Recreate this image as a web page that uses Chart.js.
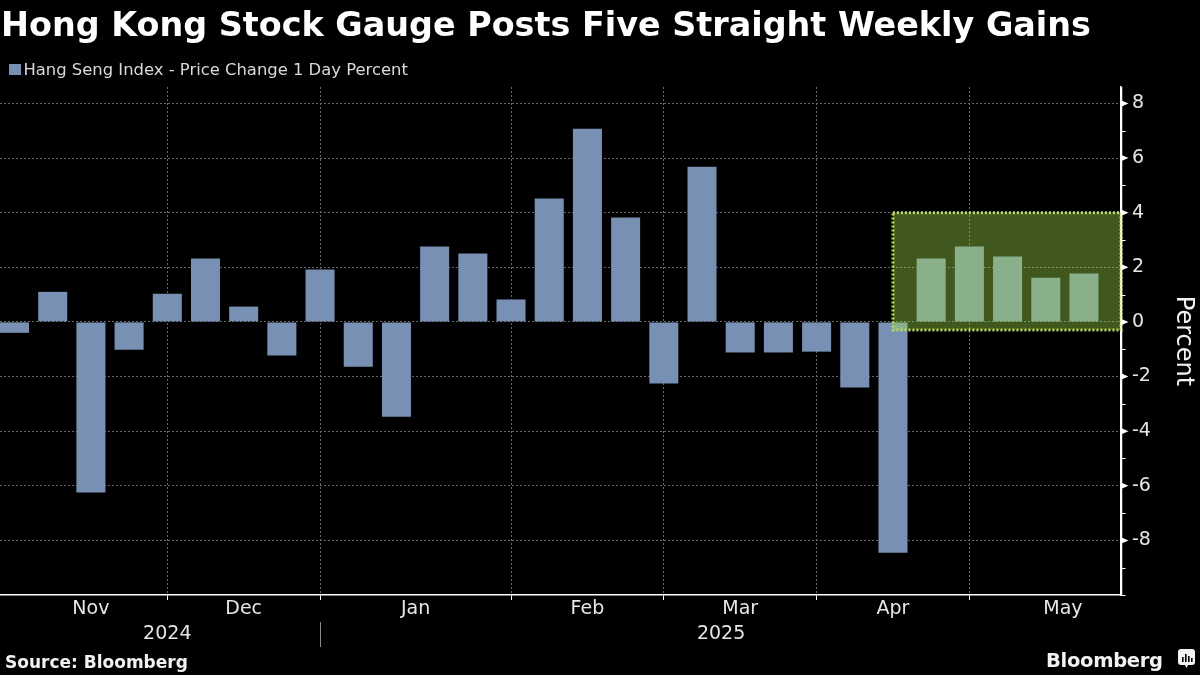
<!DOCTYPE html>
<html>
<head>
<meta charset="utf-8">
<title>Hong Kong Stock Gauge Posts Five Straight Weekly Gains</title>
<script src="https://cdn.jsdelivr.net/npm/chart.js@4.4.1/dist/chart.umd.min.js"></script>
<style>
  html, body { margin: 0; padding: 0; background: #000; }
  #wrap { position: relative; width: 1200px; height: 675px; overflow: hidden; font-family: "DejaVu Sans", sans-serif; }
  #chart { position: absolute; left: 0; top: 0; }
  .title { position: absolute; left: 1px; top: 8px; font-size: 33.4px; line-height: 33.4px; font-weight: bold; color: #fff; white-space: nowrap; }
  .legend-box { position: absolute; left: 9px; top: 64px; width: 12px; height: 11px; background: #7890b3; }
  .legend-text { position: absolute; left: 23.5px; top: 62px; font-size: 16.4px; line-height: 16.4px; color: #d9d9d9; white-space: nowrap; }
  .source { position: absolute; left: 5px; top: 654px; font-size: 17px; line-height: 17px; font-weight: bold; color: #f2f2f2; white-space: nowrap; }
  .brand { position: absolute; left: 1046px; top: 651px; font-size: 19.5px; line-height: 19.5px; font-weight: bold; color: #f2f2f2; letter-spacing: -0.3px; white-space: nowrap; }
  .brand-icon { position: absolute; left: 1178px; top: 649px; }
</style>
</head>
<body>
<div id="wrap">
  <canvas id="chart" width="1200" height="675"></canvas>
  <div class="title">Hong Kong Stock Gauge Posts Five Straight Weekly Gains</div>
  <div class="legend-box"></div>
  <div class="legend-text">Hang Seng Index - Price Change 1 Day Percent</div>
  <div class="source">Source: Bloomberg</div>
  <div class="brand">Bloomberg</div>
  <svg class="brand-icon" width="18" height="20" viewBox="0 0 18 20">
    <rect x="0" y="0" width="17" height="16" rx="3" fill="#f2f2f2"/>
    <path d="M7 16 L10 16 L8.5 19 Z" fill="#f2f2f2"/>
    <rect x="4" y="8" width="1.6" height="5" fill="#000"/>
    <rect x="7" y="5" width="1.6" height="8" fill="#000"/>
    <rect x="10" y="7" width="1.6" height="6" fill="#000"/>
    <rect x="13" y="9" width="1.6" height="4" fill="#000"/>
  </svg>
</div>
<script>
// weekly bars, Friday closes
const weeks = [
  "2024-11-01", "2024-11-08", "2024-11-15", "2024-11-22", "2024-11-29",
  "2024-12-06", "2024-12-13", "2024-12-20", "2024-12-27",
  "2025-01-03", "2025-01-10", "2025-01-17", "2025-01-24", "2025-01-31",
  "2025-02-07", "2025-02-14", "2025-02-21", "2025-02-28",
  "2025-03-07", "2025-03-14", "2025-03-21", "2025-03-28",
  "2025-04-04", "2025-04-11", "2025-04-17", "2025-04-25",
  "2025-05-02", "2025-05-09", "2025-05-16",
];
const weeklyChange = [
  -0.4, 1.1, -6.25, -1.02, 1.03,
  2.32, 0.56, -1.23, 1.92,
  -1.64, -3.47, 2.76, 2.5, 0.82,
  4.52, 7.07, 3.82, -2.26,
  5.68, -1.12, -1.12, -1.09,
  -2.4, -8.45, 2.32, 2.76,
  2.39, 1.62, 1.77,
];

// x axis is the week index
const monthNames = ["Nov", "Dec", "Jan", "Feb", "Mar", "Apr", "May"];
const monthLabelAt = [2, 6, 10.5, 15, 19, 23, 27.45];
const monthStartAt = [4, 8, 13, 17, 21, 25];
const yearNames = ["2024", "2025"];
const yearLabelAt = [4, 18.5];
const yearBreakAt = 8;
const xRange = [-0.38, 28.97];

const yRange = [-10, 8.6];
const yMajorTicks = [-8, -6, -4, -2, 0, 2, 4, 6, 8];
const yMinorTicks = [-10, -9, -7, -5, -3, -1, 1, 3, 5, 7];

// the five-week streak box
const streakFrom = 23;
const streakLow = -0.3;
const streakHigh = 4;

const BAR = "#7890b3";
const GRID = "#666666";
const TEXT = "#e6e6e6";
const FONT = "'DejaVu Sans', sans-serif";

const decorations = {
  id: "decorations",
  afterDatasetsDraw(chart) {
    const { ctx, scales: { x, y } } = chart;
    const left = x.getPixelForValue(streakFrom);
    const right = x.getPixelForValue(xRange[1]);
    const top = y.getPixelForValue(streakHigh);
    const bottom = y.getPixelForValue(streakLow);

    ctx.save();
    ctx.fillStyle = "rgba(164, 226, 77, 0.39)";
    ctx.fillRect(left, top, right - left, bottom - top);
    ctx.setLineDash([2, 2]);
    ctx.lineWidth = 3;
    ctx.strokeStyle = "#b8dc55";
    ctx.strokeRect(left, top, right - left, bottom - top);
    ctx.restore();
  },
  afterDraw(chart) {
    const { ctx, scales: { x, y } } = chart;
    const ax = Math.round(y.left) + 0.5;

    ctx.save();
    // redraw right axis line over the box
    ctx.strokeStyle = "#ffffff";
    ctx.lineWidth = 1.5;
    ctx.beginPath();
    ctx.moveTo(ax, y.top);
    ctx.lineTo(ax, y.bottom);
    ctx.stroke();

    ctx.fillStyle = "#ffffff";
    yMajorTicks.forEach((v) => {
      const py = y.getPixelForValue(v);
      ctx.beginPath();
      ctx.moveTo(ax, py - 3);
      ctx.lineTo(ax + 7, py);
      ctx.lineTo(ax, py + 3);
      ctx.closePath();
      ctx.fill();
    });
    ctx.lineWidth = 1;
    yMinorTicks.forEach((v) => {
      const py = Math.round(y.getPixelForValue(v)) + 0.5;
      ctx.beginPath();
      ctx.moveTo(ax, py);
      ctx.lineTo(ax + 4, py);
      ctx.stroke();
    });

    // years under the months
    ctx.fillStyle = TEXT;
    ctx.font = `19px ${FONT}`;
    ctx.textAlign = "center";
    ctx.textBaseline = "middle";
    yearNames.forEach((name, i) => {
      ctx.fillText(name, x.getPixelForValue(yearLabelAt[i]), 634.5);
    });
    const bx = Math.round(x.getPixelForValue(yearBreakAt)) + 0.5;
    ctx.strokeStyle = "#8a8a8a";
    ctx.beginPath();
    ctx.moveTo(bx, 622);
    ctx.lineTo(bx, 647);
    ctx.stroke();
    ctx.restore();
  },
};

const isMonthStart = (c) => c.tick && monthStartAt.includes(c.tick.value);

new Chart(document.getElementById("chart"), {
  type: "bar",
  data: {
    labels: weeks,
    datasets: [
      {
        label: "Hang Seng Index - Price Change 1 Day Percent",
        data: weeklyChange.map((v, i) => ({ x: i, y: v })),
        backgroundColor: BAR,
        borderWidth: 0,
        barPercentage: 0.76,
        categoryPercentage: 1,
      },
    ],
  },
  options: {
    responsive: false,
    animation: false,
    devicePixelRatio: 1,
    layout: { autoPadding: false, padding: { top: 87, left: 0, right: 0, bottom: 0 } },
    plugins: { legend: { display: false }, tooltip: { enabled: false } },
    scales: {
      x: {
        type: "linear",
        min: xRange[0],
        max: xRange[1],
        offset: false,
        afterBuildTicks: (scale) => {
          scale.ticks = [...monthStartAt, ...monthLabelAt]
            .sort((a, b) => a - b)
            .map((v) => ({ value: v }));
        },
        afterFit: (scale) => { scale.height = 80; },
        grid: {
          offset: false,
          color: (c) => (isMonthStart(c) ? GRID : "transparent"),
          tickColor: (c) => (isMonthStart(c) ? "#ffffff" : "transparent"),
          tickLength: 5,
          tickWidth: 1,
        },
        border: { display: true, color: "#ffffff", width: 1.5, dash: [2, 2] },
        ticks: {
          autoSkip: false,
          maxRotation: 0,
          padding: -2,
          color: TEXT,
          font: { family: FONT, size: 19 },
          callback: (value) => {
            const k = monthLabelAt.indexOf(value);
            return k >= 0 ? monthNames[k] : "";
          },
        },
      },
      y: {
        position: "right",
        min: yRange[0],
        max: yRange[1],
        afterBuildTicks: (scale) => {
          scale.ticks = yMajorTicks.map((v) => ({ value: v }));
        },
        afterFit: (scale) => { scale.width = 79; },
        grid: { color: GRID, drawTicks: false },
        border: { display: true, color: "#ffffff", width: 1.5, dash: [2, 2] },
        ticks: {
          padding: 11,
          color: TEXT,
          font: { family: FONT, size: 19 },
        },
        title: {
          display: true,
          text: "Percent",
          color: "#f0f0f0",
          font: { family: FONT, size: 24 },
          padding: { top: 2, bottom: 0 },
        },
      },
    },
  },
  plugins: [decorations],
});
</script>
</body>
</html>
